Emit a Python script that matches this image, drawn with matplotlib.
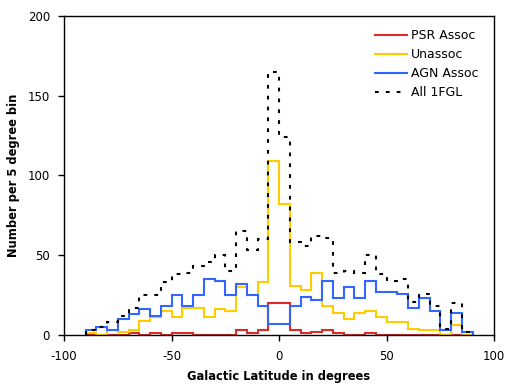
import numpy as np
import matplotlib
matplotlib.use('Agg')
import matplotlib.pyplot as plt

# 5 degree bins in galactic latitude, -90 .. 90
edges = np.arange(-90, 91, 5)

psr = [0, 0, 0, 0, 1, 0, 1, 0, 1, 1, 0, 0, 0, 0, 3, 1, 3, 20,
       20, 3, 1, 2, 3, 1, 0, 0, 1, 0, 0, 0, 0, 0, 0, 0, 0, 0]
unassoc = [1, 0, 3, 2, 3, 9, 11, 15, 11, 17, 17, 11, 16, 15, 30, 25, 33, 109,
           82, 31, 28, 39, 18, 14, 10, 14, 15, 11, 8, 8, 4, 3, 3, 0, 6, 0]
agn = [3, 5, 3, 10, 13, 16, 12, 18, 25, 18, 25, 35, 34, 25, 32, 25, 18, 7,
       7, 18, 24, 22, 34, 23, 30, 23, 34, 27, 27, 26, 17, 23, 15, 3, 14, 2]
all_1fgl = [3, 5, 8, 12, 17, 25, 25, 33, 38, 39, 43, 46, 50, 40, 65, 53, 60, 165,
            124, 58, 56, 62, 61, 39, 40, 39, 50, 38, 34, 35, 21, 26, 18, 4, 20, 2]

plt.rcParams['font.family'] = 'DejaVu Sans'
plt.rcParams['axes.unicode_minus'] = False

fig = plt.figure(figsize=(5.17, 3.91), dpi=100)
ax = fig.add_axes([64 / 517, 56 / 391, 430 / 517, 319 / 391])

ax.stairs(psr, edges, color='#dc2b2b', lw=1.5, label='PSR Assoc')
ax.stairs(unassoc, edges, color='#ffcc00', lw=1.5, label='Unassoc')
ax.stairs(agn, edges, color='#3366ff', lw=1.5, label='AGN Assoc')
ax.stairs(all_1fgl, edges, color='black', lw=1.5, ls=(0, (1.8, 3.4)), label='All 1FGL')

ax.set_xlim(-100, 100)
ax.set_ylim(0, 200)
ax.set_xticks([-100, -50, 0, 50, 100])
ax.set_yticks([0, 50, 100, 150, 200])
ax.tick_params(direction='out', length=4, width=1, labelsize=8.5, pad=6)
ax.tick_params(axis='x', pad=7)
for s in ax.spines.values():
    s.set_linewidth(1.0)

ax.set_xlabel('Galactic Latitude in degrees', fontsize=8.3, fontweight='bold', labelpad=4.5)
ax.set_ylabel('Number per 5 degree bin', fontsize=8.3, fontweight='bold', labelpad=5.5)

ax.legend(loc='upper left', bbox_to_anchor=(0.723, 0.958), frameon=False, fontsize=9,
          handlelength=2.56, handletextpad=0.32, labelspacing=0.47,
          borderpad=0, borderaxespad=0)

fig.savefig('out.png', dpi=100)
